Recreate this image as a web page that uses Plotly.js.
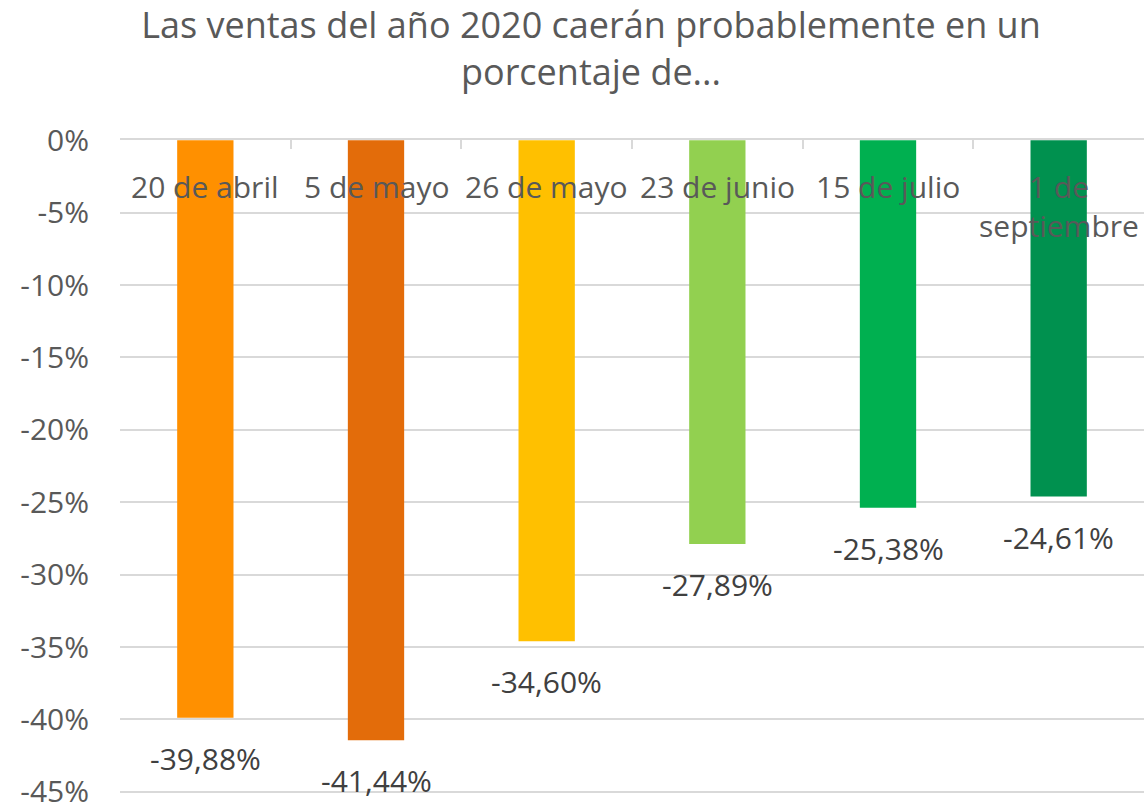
<!DOCTYPE html>
<html>
<head>
<meta charset="utf-8">
<script src="https://cdn.plot.ly/plotly-3.0.1.min.js"></script>
<style>html,body{margin:0;padding:0;background:#fff;}#chart{width:1144px;height:807px;}</style>
</head>
<body>
<div id="chart"></div>
<script>
const categories = ["20 de abril", "5 de mayo", "26 de mayo", "23 de junio", "15 de julio", "1 de<br>septiembre"];
const values = [-0.3988, -0.4144, -0.3460, -0.2789, -0.2538, -0.2461];
const barColors = ["#FF9000", "#E36C0A", "#FFC000", "#92D050", "#00B050", "#00914F"];
const yTickVals = [0, -0.05, -0.10, -0.15, -0.20, -0.25, -0.30, -0.35, -0.40, -0.45];
const yTickLabels = ["0%", "-5%", "-10%", "-15%", "-20%", "-25%", "-30%", "-35%", "-40%", "-45%"];

const FONT = "Open Sans, Noto Sans, sans-serif";
const labels = values.map(v => (v * 100).toFixed(2).replace('.', ',') + '%');

const annotations = [];
categories.forEach((c, i) => {
  annotations.push({
    x: c, y: 0.963, xref: 'x', yref: 'paper', text: c, showarrow: false,
    xanchor: 'center', yanchor: 'top', align: 'center',
    font: {family: FONT, size: 30, color: '#595959'}
  });
  annotations.push({
    x: c, y: values[i], xref: 'x', yref: 'y', text: labels[i], showarrow: false,
    xanchor: 'center', yanchor: 'top', yshift: -18,
    font: {family: FONT, size: 30, color: '#404040'}
  });
});

const trace = {
  type: 'bar', x: categories, y: values,
  marker: {color: barColors, line: {width: 0}},
  hoverinfo: 'none'
};

const layout = {
  width: 1144, height: 807,
  margin: {l: 120, r: 0, t: 140, b: 13},
  paper_bgcolor: '#ffffff', plot_bgcolor: '#ffffff',
  font: {family: FONT, color: '#595959'},
  title: {
    text: "Las ventas del año 2020 caerán probablemente en un<br>porcentaje de...",
    x: 0.5166, xanchor: 'center', xref: 'container',
    y: 0.953, yanchor: 'middle', yref: 'container',
    font: {family: FONT, size: 36, color: '#595959'}
  },
  bargap: 0.67,
  showlegend: false,
  xaxis: {
    type: 'category', side: 'top', showticklabels: false,
    showline: true, linecolor: '#d9d9d9', linewidth: 2,
    ticks: 'inside', tickson: 'boundaries', ticklen: 9, tickcolor: '#d9d9d9', tickwidth: 2,
    showgrid: false, zeroline: false, fixedrange: true
  },
  yaxis: {
    range: [-0.4515, 0.0002], tickvals: yTickVals, ticktext: yTickLabels,
    showgrid: true, gridcolor: '#d9d9d9', gridwidth: 2,
    zeroline: false, showline: false, ticks: '',
    ticklabelstandoff: 30, ticklabeloverflow: 'allow',
    tickfont: {family: FONT, size: 30, color: '#595959'},
    fixedrange: true
  },
  annotations: annotations
};

Plotly.newPlot('chart', [trace], layout, {displayModeBar: false, staticPlot: true});
</script>
</body>
</html>
